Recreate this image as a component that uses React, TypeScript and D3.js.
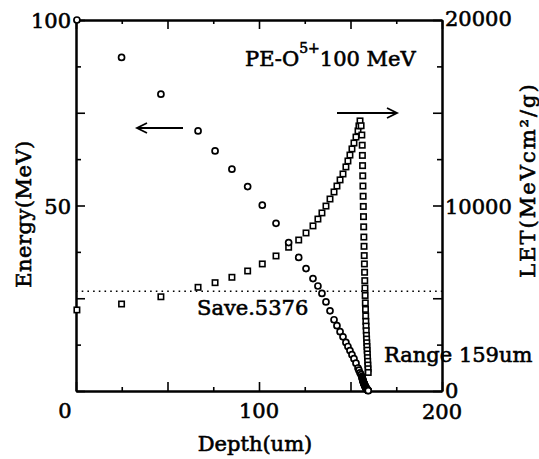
import React from "react";
import * as d3 from "d3";

// depth (um), energy (MeV) and LET (MeV cm2/g)
const depth = [
  0.5, 24.9, 46.4, 66.7, 76.0, 85.2, 93.8, 101.8, 109.3, 116.2, 121.7,
  125.7, 129.5, 132.2, 134.4, 136.6, 138.8, 141.0, 142.6, 144.3, 145.9,
  147.5, 148.6, 149.7, 150.8, 151.9, 153.0, 154.1, 154.6, 155.2,
  155.8, 156.2, 156.4, 156.5, 156.6, 156.7, 156.8, 156.9, 157.0, 157.1,
  157.2, 157.3, 157.4, 157.5, 157.6, 157.7, 157.8, 157.9, 158.0, 158.1,
  158.2, 158.3, 158.4, 158.5, 158.6, 158.7, 158.8, 158.9, 159.0, 159.1,
  159.2, 159.3, 159.4, 159.5, 159.6, 159.7,
];
const energy = [
  100, 89.9, 80.0, 70.1, 64.7, 59.8, 55.1, 50.1, 45.2, 40.0, 36.0,
  33.0, 30.3, 28.3, 26.3, 24.0, 21.6, 19.2, 17.6, 16.0, 14.6,
  13.1, 12.0, 10.9, 9.8, 8.7, 7.5, 6.2, 5.6, 4.9,
  4.4, 3.9, 3.6, 3.4, 3.2, 3.0, 2.8, 2.7, 2.5, 2.4,
  2.2, 2.1, 2.0, 1.9, 1.7, 1.6, 1.5, 1.4, 1.3, 1.2,
  1.1, 1.0, 0.9, 0.8, 0.7, 0.65, 0.6, 0.5, 0.45, 0.4,
  0.35, 0.3, 0.25, 0.2, 0.15, 0.1,
];
const letValues = [
  4370, 4690, 5080, 5590, 5840, 6130, 6470, 6850, 7280, 7750, 8140,
  8520, 8900, 9270, 9600, 9970, 10350, 10730, 11050, 11380, 11700,
  12080, 12400, 12720, 13050, 13370, 13690, 14020, 14290, 14560,
  14300, 13800, 13250, 12700, 12150, 11600, 11050, 10500, 9950, 9400,
  8850, 8300, 7800, 7300, 6850, 6400, 5950, 5550, 5150, 4750,
  4400, 4050, 3750, 3500, 3250, 3000, 2800, 2600, 2400, 2200,
  2000, 1800, 1600, 1400, 1200, 1000,
];
const letAverage = 5376;

const xMajor = [0, 50, 100, 150, 200];
const xMinor = [25, 75, 125, 175];
const eMajor = [0, 25, 50, 75, 100];
const eMinor = [12.5, 37.5, 62.5, 87.5];
const lMajor = [0, 5000, 10000, 15000, 20000];
const lMinor = [2500, 7500, 12500, 17500];

export default function App() {
  const ref = React.useRef<SVGSVGElement>(null);
  React.useEffect(() => {
    const width = 539;
    const height = 459;
    const left = 76;
    const right = 442;
    const top = 20;
    const bottom = 391;
    const font = "'DejaVu Serif', serif";

    const x = d3.scaleLinear().domain([0, 200]).range([left, right]);
    const yE = d3.scaleLinear().domain([0, 100]).range([bottom, top]);
    const yL = d3.scaleLinear().domain([0, 20000]).range([bottom, top]);

    const svg = d3
      .select(ref.current)
      .attr("width", width)
      .attr("height", height)
      .attr("viewBox", [0, 0, width, height])
      .style("position", "absolute")
      .style("left", "0px")
      .style("top", "0px")
      .style("background", "#fff");
    svg.selectAll("*").remove();

    // ticks point inward on every side
    const axis = (gen, tr) => {
      svg.append("g")
        .attr("transform", tr)
        .call(gen)
        .call((g) => g.selectAll("text").remove())
        .call((g) => g.select(".domain").attr("stroke-width", 2))
        .call((g) => g.selectAll(".tick line").attr("stroke-width", 1.6));
    };
    const ax = (a, vals, size) => a.tickValues(vals).tickSize(-size).tickSizeOuter(0);
    axis(ax(d3.axisBottom(x), xMajor, 9), `translate(0,${bottom})`);
    axis(ax(d3.axisBottom(x), xMinor, 4), `translate(0,${bottom})`);
    axis(ax(d3.axisTop(x), xMajor, 9), `translate(0,${top})`);
    axis(ax(d3.axisTop(x), xMinor, 4), `translate(0,${top})`);
    axis(ax(d3.axisLeft(yE), eMajor, 9), `translate(${left},0)`);
    axis(ax(d3.axisLeft(yE), eMinor, 5), `translate(${left},0)`);
    axis(ax(d3.axisRight(yL), lMajor, 9), `translate(${right},0)`);
    axis(ax(d3.axisRight(yL), lMinor, 5), `translate(${right},0)`);

    // scanned print looks heavy, so thicken glyphs a little
    const label = (tx, ty, str, anchor = "middle", size = 21) =>
      svg.append("text")
        .attr("x", tx)
        .attr("y", ty)
        .attr("text-anchor", anchor)
        .attr("font-family", font)
        .attr("font-size", size)
        .attr("fill", "#000")
        .attr("stroke", "#000")
        .attr("stroke-width", 0.6)
        .text(str);

    // tick labels
    label(x(0) - 11, 418, "0");
    label(x(100), 418, "100");
    label(x(200), 419, "200");
    label(left - 5, yE(100) + 8, "100", "end");
    label(left - 5, yE(50) + 8, "50", "end");
    label(right + 3, yL(20000) + 6, "20000", "start");
    label(right + 3, yL(10000) + 8, "10000", "start");
    label(right + 3, yL(0) + 7, "0", "start");

    // axis titles
    label(255, 451, "Depth(um)");
    label(0, 0, "Energy(MeV)").attr("letter-spacing", 0.5)
      .attr("transform", "translate(31,214) rotate(-90)");
    label(0, 0, "LET(MeVcm²/g)").attr("letter-spacing", 2)
      .attr("transform", "translate(535,180) rotate(-90)");

    // average LET line
    svg.append("line")
      .attr("x1", left)
      .attr("x2", right)
      .attr("y1", yL(letAverage))
      .attr("y2", yL(letAverage))
      .attr("stroke", "#000")
      .attr("stroke-width", 1.6)
      .attr("stroke-dasharray", "1.6 4.1");
    label(197, 315, "Save.5376", "start");

    const pe = label(245, 66, "PE-O", "start");
    pe.append("tspan").attr("font-size", 14).attr("dy", -13).text("5+");
    pe.append("tspan").attr("dy", 13).text("100 MeV");

    label(384, 362, "Range  159um", "start");

    // direction arrows
    const arrow = (x1, x2, yy) => {
      const dir = x2 > x1 ? 1 : -1;
      svg.append("line")
        .attr("x1", x1).attr("x2", x2).attr("y1", yy).attr("y2", yy)
        .attr("stroke", "#000").attr("stroke-width", 1.8);
      svg.append("path")
        .attr("d", `M${x2 - dir * 10},${yy - 5}L${x2},${yy}L${x2 - dir * 10},${yy + 5}`)
        .attr("fill", "none").attr("stroke", "#000").attr("stroke-width", 1.8);
    };
    arrow(183, 137, 128);
    arrow(337, 397, 113);

    const pts = depth.map((d, i) => ({ d, e: energy[i], l: letValues[i] }));

    svg.append("g")
      .attr("fill", "#fff")
      .attr("stroke", "#000")
      .attr("stroke-width", 1.6)
      .selectAll()
      .data(pts)
      .join("rect")
      .attr("x", (p) => x(p.d) - 2.7)
      .attr("y", (p) => yL(p.l) - 2.7)
      .attr("width", 5.4)
      .attr("height", 5.4);

    svg.append("g")
      .attr("fill", "#fff")
      .attr("stroke", "#000")
      .attr("stroke-width", 1.7)
      .selectAll()
      .data(pts)
      .join("circle")
      .attr("cx", (p) => x(p.d))
      .attr("cy", (p) => yE(p.e))
      .attr("r", 3);
  }, []);

  return <svg ref={ref}></svg>;
}
